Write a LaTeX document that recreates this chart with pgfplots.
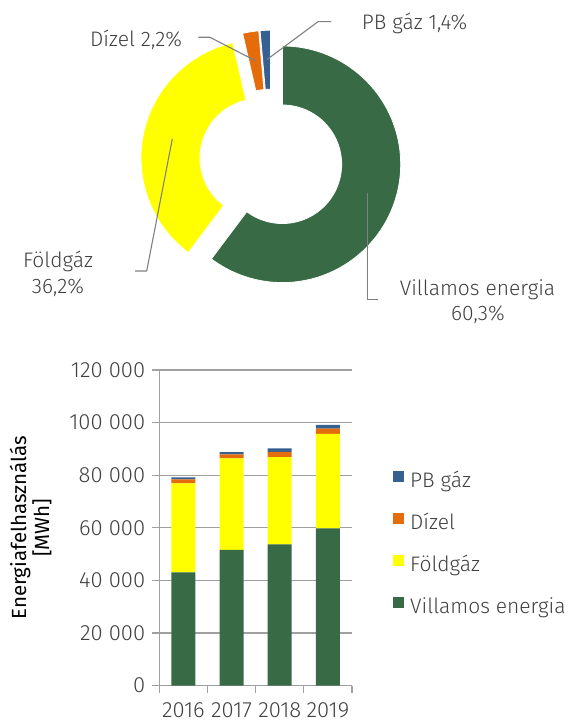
\documentclass[border=0pt]{standalone}
\usepackage{fontspec}
\setmainfont{Fira Sans}[UprightFont=* Light, BoldFont=*]
\usepackage{pgfplots}
\pgfplotsset{compat=1.18}
\usepackage{pgfplotstable}

\definecolor{cgreen}{HTML}{386A46}
\definecolor{cyellow}{HTML}{FFFF00}
\definecolor{corange}{HTML}{E46C0A}
\definecolor{cblue}{HTML}{366092}
\definecolor{axgray}{HTML}{A0A0A0}
\definecolor{txt}{HTML}{404040}
\definecolor{lead}{HTML}{808080}

% bar chart data (MWh)
\pgfplotstableread{
x V F D P
0 43000 33900 1500 800
1 51600 34800 1500 900
2 53700 33200 2000 1300
3 59800 35900 2000 1400
}\energy

% pie data (2019 shares, %)
\def\pV{60.3}\def\pF{36.2}\def\pD{2.2}\def\pP{1.4}
\pgfmathsetmacro\tot{\pV+\pF+\pD+\pP}
\pgfmathsetmacro\aA{90}
\pgfmathsetmacro\aB{\aA-(\pV/\tot)*360}
\pgfmathsetmacro\aC{\aB-(\pF/\tot)*360}
\pgfmathsetmacro\aD{\aC-(\pD/\tot)*360}
\pgfmathsetmacro\aE{\aD-(\pP/\tot)*360}
\def\Ro{118.3}\def\Ri{59.3}\def\ex{12}

\newcommand\slice[3]{%
  \pgfmathsetmacro\smid{(#1+#2)/2}%
  \pgfmathsetmacro\ox{\ex*cos(\smid)}%
  \pgfmathsetmacro\oy{\ex*sin(\smid)}%
  \pgfmathsetmacro\pax{\ox+\Ro*cos(#1)}\pgfmathsetmacro\pay{\oy+\Ro*sin(#1)}%
  \pgfmathsetmacro\pbx{\ox+\Ri*cos(#2)}\pgfmathsetmacro\pby{\oy+\Ri*sin(#2)}%
  \fill[#3, draw=white, line width=0.8bp] (axis cs:\pax,\pay)
    arc[start angle=#1, end angle=#2, radius=\Ro bp]
    -- (axis cs:\pbx,\pby)
    arc[start angle=#2, end angle=#1, radius=\Ri bp] -- cycle;
}

\pgfplotsset{
  ent/.style={fill=#1, draw=none,
    legend image code/.code={\fill[#1] (0bp,0.5bp) rectangle (11bp,11.5bp);}},
}

\begin{document}
\fontsize{21bp}{25bp}\selectfont
\begin{tikzpicture}
\useasboundingbox (0,0) rectangle (568bp,722bp);

% ---------- donut ----------
\begin{axis}[
  at={(271bp,561.5bp)}, anchor=center,
  hide axis, x=1bp, y=1bp,
  xmin=-140, xmax=140, ymin=-140, ymax=140,
  clip=false,
]
\pgfplotsextra{\slice{\aA}{\aB}{cgreen}}
\pgfplotsextra{\slice{\aB}{\aC}{cyellow}}
\pgfplotsextra{\slice{\aC}{\aD}{corange}}
\pgfplotsextra{\slice{\aD}{\aE}{cblue}}
\end{axis}

% leader lines
\draw[lead, line width=1.1bp] (331bp,700.3bp) -- (318bp,700.3bp) -- (267.3bp,662.7bp);
\draw[lead, line width=1.1bp] (198.3bp,684.7bp) -- (210bp,684.7bp) -- (256bp,661bp);
\draw[lead, line width=1.1bp] (135bp,451bp) -- (146.7bp,451bp) -- (172.3bp,583bp);
\draw[lead, line width=1.1bp] (367.3bp,528.7bp) -- (367.3bp,422.5bp) -- (378.3bp,422.5bp);

% pie labels
\node[txt, anchor=base west, inner sep=0] at (361.7bp,692bp) {PB gáz 1,4\%};
\node[txt, anchor=base east, inner sep=0] at (182.3bp,675.3bp) {Dízel 2,2\%};
\node[txt, anchor=base, inner sep=0] at (58bp,454.7bp) {Földgáz};
\node[txt, anchor=base, inner sep=0] at (58bp,428bp) {36,2\%};
\node[txt, anchor=base, inner sep=0] at (477.5bp,426.3bp) {Villamos energia};
\node[txt, anchor=base, inner sep=0] at (478bp,401bp) {60,3\%};

% ---------- stacked bars ----------
\begin{axis}[
  at={(159.3bp,36.5bp)}, anchor=south west,
  scale only axis, width=192.7bp, height=315.5bp,
  xmin=-0.5, xmax=3.5, ymin=0, ymax=120000,
  ybar stacked, bar width=24bp,
  axis lines=left,
  axis line style={draw=axgray, line width=1.3bp, -},
  scaled y ticks=false,
  ytick={0,20000,40000,60000,80000,100000,120000},
  yticklabels={0,{20 000},{40 000},{60 000},{80 000},{100 000},{120 000}},
  xtick={0,1,2,3}, xticklabels={2016,2017,2018,2019},
  minor xtick={-0.5,0.5,1.5,2.5,3.5},
  tick align=outside,
  major tick length=7bp, minor tick length=7bp,
  tick style={draw=axgray, line width=1.3bp},
  major x tick style={draw=none},
  ymajorgrids, grid style={draw=axgray, line width=1.3bp},
  tick label style={text=txt, font=\fontsize{22bp}{26bp}\selectfont},
  xticklabel style={yshift=-3bp},
  ylabel={Energiafelhasználás\\{}[MWh]},
  ylabel style={at={(axis description cs:-0.668,0.5)}, anchor=center,
    align=center, text=black, font=\bfseries\fontsize{20.5bp}{23bp}\selectfont},
  reverse legend,
  legend style={at={(axis description cs:1.2128,0.681)}, anchor=north west,
    draw=none, fill=none, inner sep=0pt, text=txt,
    nodes={inner sep=0pt, text height=15bp, text depth=5bp},
    row sep=20.5bp, column sep=6bp},
  legend cell align=left,
]
\addplot[ent=cgreen] table[x=x,y=V]{\energy};
\addplot[ent=cyellow] table[x=x,y=F]{\energy};
\addplot[ent=corange] table[x=x,y=D]{\energy};
\addplot[ent=cblue] table[x=x,y=P]{\energy};
\legend{Villamos energia,Földgáz,Dízel,PB gáz}
\end{axis}
\end{tikzpicture}
\end{document}
